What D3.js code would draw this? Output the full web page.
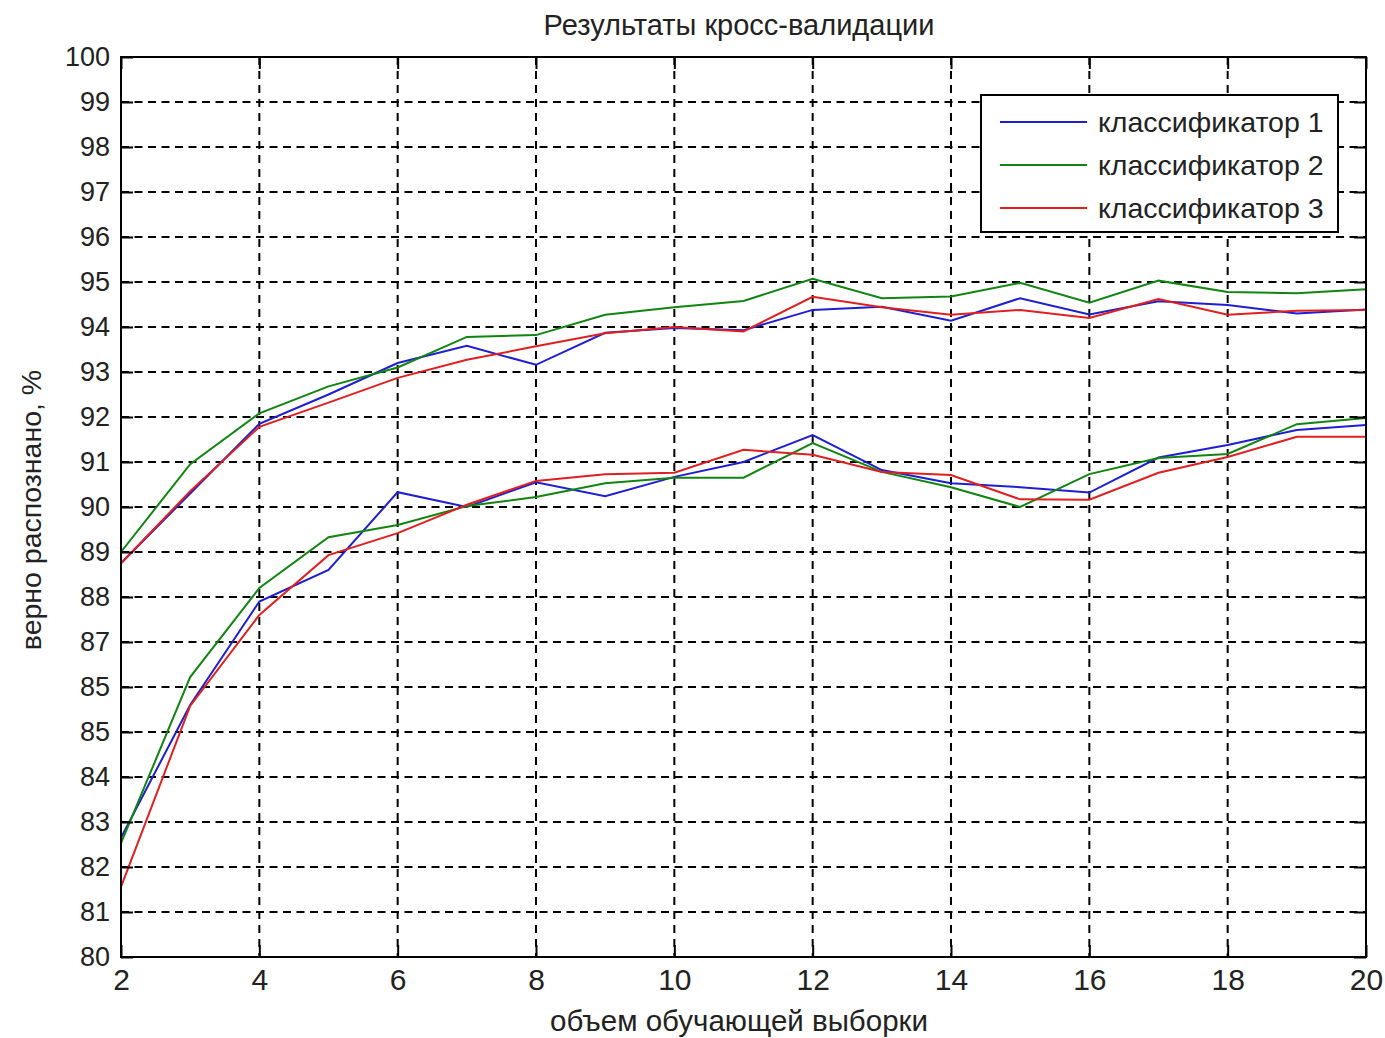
<!DOCTYPE html>
<html>
<head>
<meta charset="utf-8">
<script src="https://cdn.jsdelivr.net/npm/d3@7"></script>
<style>
  html, body { margin: 0; padding: 0; background: #fff; }
  svg { display: block; font-family: "Liberation Sans", Arial, sans-serif; }
</style>
</head>
<body>
<div id="chart"></div>
<script>
// sample sizes
const sampleSizes = [2, 3, 4, 5, 6, 7, 8, 9, 10, 11, 12, 13, 14, 15, 16, 17, 18, 19, 20];

// upper group of curves
const clf1Upper = [88.75, 90.3, 91.85, 92.5, 93.2, 93.58, 93.16, 93.87, 93.98, 93.93, 94.38, 94.45, 94.14, 94.64, 94.28, 94.57, 94.49, 94.3, 94.39];
const clf2Upper = [89.0, 90.95, 92.08, 92.68, 93.1, 93.78, 93.82, 94.27, 94.44, 94.58, 95.07, 94.64, 94.68, 94.98, 94.54, 95.03, 94.78, 94.75, 94.84];
const clf3Upper = [88.75, 90.35, 91.78, 92.32, 92.87, 93.27, 93.57, 93.86, 94.0, 93.9, 94.67, 94.44, 94.27, 94.38, 94.2, 94.62, 94.27, 94.36, 94.38];

// lower group of curves
const clf1Lower = [82.65, 85.6, 87.9, 88.6, 90.33, 90.0, 90.55, 90.24, 90.67, 91.0, 91.6, 90.82, 90.53, 90.44, 90.32, 91.1, 91.38, 91.71, 91.82];
const clf2Lower = [82.53, 86.22, 88.2, 89.33, 89.6, 90.02, 90.22, 90.53, 90.65, 90.65, 91.42, 90.78, 90.44, 90.0, 90.73, 91.09, 91.18, 91.84, 91.98];
const clf3Lower = [81.56, 85.58, 87.6, 88.93, 89.42, 90.05, 90.58, 90.73, 90.76, 91.27, 91.16, 90.78, 90.71, 90.17, 90.16, 90.76, 91.11, 91.56, 91.56];

const legendNames = ['классификатор 1', 'классификатор 2', 'классификатор 3'];

// tick values and labels (labels as printed on the original, incl. the doubled "85")
const xTicks = [2, 4, 6, 8, 10, 12, 14, 16, 18, 20];
const yTicks = d3.range(80, 101);
const yTickLabels = ['80', '81', '82', '83', '84', '85', '85', '87', '88', '89', '90',
  '91', '92', '93', '94', '95', '96', '97', '98', '99', '100'];

const colors = ['#1e1ed2', '#128412', '#e02020'];

const W = 1385, H = 1038;
const margin = { top: 57, right: 19, bottom: 81, left: 121 };
const width = W - margin.left - margin.right;
const height = H - margin.top - margin.bottom;

const svg = d3.select('#chart').append('svg')
  .attr('width', W)
  .attr('height', H);

const g = svg.append('g')
  .attr('transform', `translate(${margin.left},${margin.top})`);

const x = d3.scaleLinear().domain([2, 20]).range([0, width]);
const y = d3.scaleLinear().domain([80, 100]).range([height, 0]);

// grid
g.append('g')
  .selectAll('line')
  .data(yTicks.slice(1, -1))
  .join('line')
  .attr('x1', 0).attr('x2', width)
  .attr('y1', d => y(d)).attr('y2', d => y(d))
  .attr('stroke', '#000')
  .attr('stroke-width', 2)
  .attr('stroke-dasharray', '8,5.5');

g.append('g')
  .selectAll('line')
  .data(xTicks.slice(1, -1))
  .join('line')
  .attr('y1', 0).attr('y2', height)
  .attr('x1', d => x(d)).attr('x2', d => x(d))
  .attr('stroke', '#000')
  .attr('stroke-width', 2)
  .attr('stroke-dasharray', '8,6');

// data lines
const line = d3.line()
  .x((d, i) => x(sampleSizes[i]))
  .y(d => y(d));

const groups = [
  [clf1Upper, clf2Upper, clf3Upper],
  [clf1Lower, clf2Lower, clf3Lower]
];
groups.forEach(set => {
  set.forEach((vals, k) => {
    g.append('path')
      .datum(vals)
      .attr('fill', 'none')
      .attr('stroke', colors[k])
      .attr('stroke-width', 2)
      .attr('d', line);
  });
});

// axes (ticks inside, MATLAB style)
const tickLen = 12;
const xAxis = g.append('g')
  .attr('transform', `translate(0,${height})`)
  .call(d3.axisBottom(x).tickValues(xTicks).tickSize(-tickLen).tickPadding(12).tickSizeOuter(0));
xAxis.selectAll('text')
  .style('font-size', '30px')
  .style('fill', '#222');

const yAxis = g.append('g')
  .call(d3.axisLeft(y).tickValues(yTicks).tickFormat((d, i) => yTickLabels[i]).tickSize(-tickLen).tickPadding(11).tickSizeOuter(0));
yAxis.selectAll('text')
  .style('font-size', '27px')
  .style('fill', '#222');

g.append('g')
  .call(d3.axisTop(x).tickValues(xTicks).tickSize(-tickLen).tickFormat('').tickSizeOuter(0));
g.append('g')
  .attr('transform', `translate(${width},0)`)
  .call(d3.axisRight(y).tickValues(yTicks).tickSize(-tickLen).tickFormat('').tickSizeOuter(0));

g.selectAll('.domain').remove();
g.selectAll('.tick line').attr('stroke', '#000').attr('stroke-width', 2);

// box
g.append('rect')
  .attr('width', width)
  .attr('height', height)
  .attr('fill', 'none')
  .attr('stroke', '#000')
  .attr('stroke-width', 2);

// title and axis labels
svg.append('text')
  .attr('x', 739)
  .attr('y', 35)
  .attr('text-anchor', 'middle')
  .style('font-size', '29px')
  .style('fill', '#222')
  .text('Результаты кросс-валидации');

svg.append('text')
  .attr('x', 739)
  .attr('y', 1031)
  .attr('text-anchor', 'middle')
  .style('font-size', '29.5px')
  .style('fill', '#222')
  .text('объем обучающей выборки');

svg.append('text')
  .attr('transform', `translate(41,${510}) rotate(-90)`)
  .attr('text-anchor', 'middle')
  .style('font-size', '28.5px')
  .style('fill', '#222')
  .text('верно распознано, %');

// legend
const legend = svg.append('g')
  .attr('transform', 'translate(981,95)');

legend.append('rect')
  .attr('width', 357)
  .attr('height', 137)
  .attr('fill', '#fff')
  .attr('stroke', '#000')
  .attr('stroke-width', 2);

legendNames.forEach((name, i) => {
  const row = legend.append('g')
    .attr('transform', `translate(0,${27 + i * 43})`);
  row.append('line')
    .attr('x1', 19).attr('x2', 106)
    .attr('y1', 0).attr('y2', 0)
    .attr('stroke', colors[i])
    .attr('stroke-width', 2);
  row.append('text')
    .attr('x', 117)
    .attr('y', 10)
    .style('font-size', '28.5px')
    .style('fill', '#222')
    .text(name);
});
</script>
</body>
</html>
